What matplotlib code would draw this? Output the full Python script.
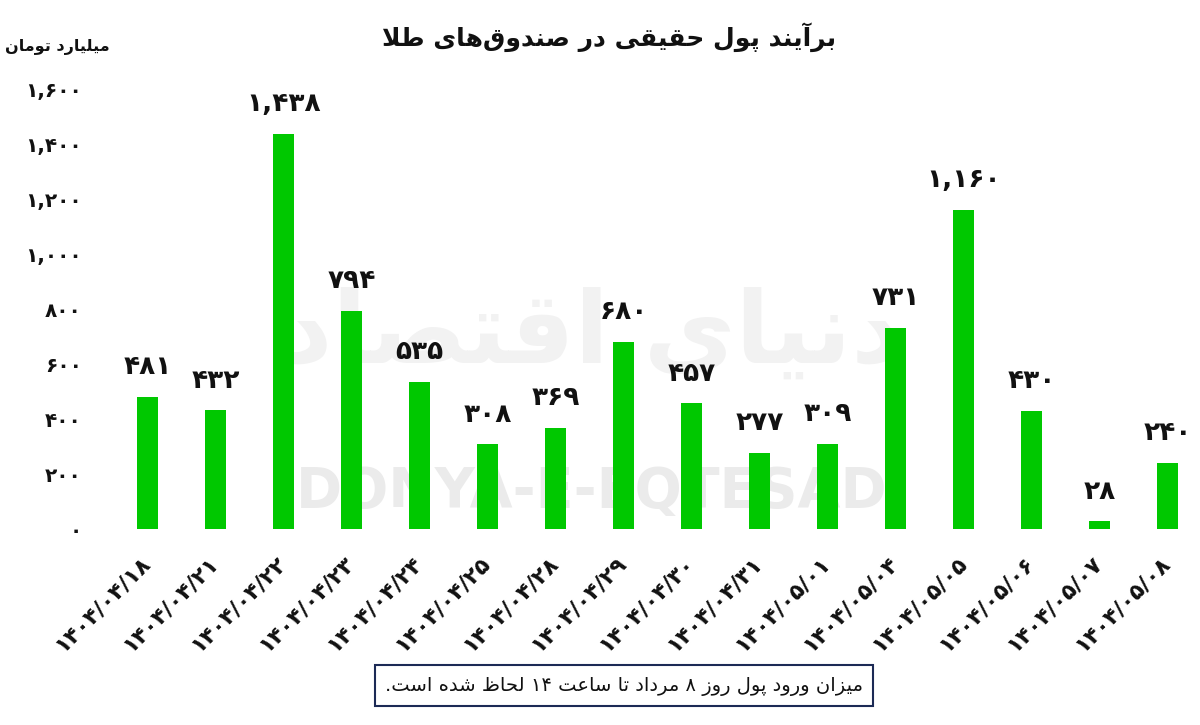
import re
import matplotlib
matplotlib.use("Agg")
import matplotlib.pyplot as plt
from matplotlib.patches import Rectangle

# ==== داده‌ها ====
DATES = ["1404/04/18", "1404/04/21", "1404/04/22", "1404/04/23", "1404/04/24",
         "1404/04/25", "1404/04/28", "1404/04/29", "1404/04/30", "1404/04/31",
         "1404/05/01", "1404/05/04", "1404/05/05", "1404/05/06", "1404/05/07",
         "1404/05/08"]
VALUES = [481, 432, 1438, 794, 535, 308, 369, 680, 457, 277, 309, 731, 1160, 430, 28, 240]
Y_TICKS = [0, 200, 400, 600, 800, 1000, 1200, 1400, 1600]

TITLE = "برآیند پول حقیقی در صندوق\u200cهای طلا"
UNIT = "میلیارد تومان"
NOTE = "میزان ورود پول روز ۸ مرداد تا ساعت ۱۴ لحاظ شده است."
WATERMARK_FA = "دنیای اقتصاد"
WATERMARK_EN = "DONYA-E-EQTESAD"
# =================

BAR_COLOR = "#00C800"
FONT = "DejaVu Sans"

# presentation forms: (isolated, final, initial, medial)
FORMS = {
    "ا": (0xFE8D, 0xFE8E, None, None), "آ": (0xFE81, 0xFE82, None, None),
    "ب": (0xFE8F, 0xFE90, 0xFE91, 0xFE92), "پ": (0xFB56, 0xFB57, 0xFB58, 0xFB59),
    "ت": (0xFE95, 0xFE96, 0xFE97, 0xFE98), "ث": (0xFE99, 0xFE9A, 0xFE9B, 0xFE9C),
    "ج": (0xFE9D, 0xFE9E, 0xFE9F, 0xFEA0), "چ": (0xFB7A, 0xFB7B, 0xFB7C, 0xFB7D),
    "ح": (0xFEA1, 0xFEA2, 0xFEA3, 0xFEA4), "خ": (0xFEA5, 0xFEA6, 0xFEA7, 0xFEA8),
    "د": (0xFEA9, 0xFEAA, None, None), "ذ": (0xFEAB, 0xFEAC, None, None),
    "ر": (0xFEAD, 0xFEAE, None, None), "ز": (0xFEAF, 0xFEB0, None, None),
    "ژ": (0xFB8A, 0xFB8B, None, None),
    "س": (0xFEB1, 0xFEB2, 0xFEB3, 0xFEB4), "ش": (0xFEB5, 0xFEB6, 0xFEB7, 0xFEB8),
    "ص": (0xFEB9, 0xFEBA, 0xFEBB, 0xFEBC), "ض": (0xFEBD, 0xFEBE, 0xFEBF, 0xFEC0),
    "ط": (0xFEC1, 0xFEC2, 0xFEC3, 0xFEC4), "ظ": (0xFEC5, 0xFEC6, 0xFEC7, 0xFEC8),
    "ع": (0xFEC9, 0xFECA, 0xFECB, 0xFECC), "غ": (0xFECD, 0xFECE, 0xFECF, 0xFED0),
    "ف": (0xFED1, 0xFED2, 0xFED3, 0xFED4), "ق": (0xFED5, 0xFED6, 0xFED7, 0xFED8),
    "ک": (0xFB8E, 0xFB8F, 0xFB90, 0xFB91), "گ": (0xFB92, 0xFB93, 0xFB94, 0xFB95),
    "ل": (0xFEDD, 0xFEDE, 0xFEDF, 0xFEE0), "م": (0xFEE1, 0xFEE2, 0xFEE3, 0xFEE4),
    "ن": (0xFEE5, 0xFEE6, 0xFEE7, 0xFEE8), "ه": (0xFEE9, 0xFEEA, 0xFEEB, 0xFEEC),
    "و": (0xFEED, 0xFEEE, None, None), "ی": (0xFBFC, 0xFBFD, 0xFBFE, 0xFBFF),
}
LAM_ALEF = {"ا": (0xFEFB, 0xFEFC), "آ": (0xFEF5, 0xFEF6)}


def dual(c):
    return c in FORMS and FORMS[c][2] is not None


def shape(text):
    # اتصال حروف + چیدن راست به چپ
    out = []
    i = 0
    n = len(text)
    while i < n:
        c = text[i]
        if c not in FORMS:
            out.append(c)
            i += 1
            continue
        prev = text[i - 1] if i > 0 else ""
        join_prev = dual(prev)
        if c == "ل" and i + 1 < n and text[i + 1] in LAM_ALEF:
            iso, fin = LAM_ALEF[text[i + 1]]
            out.append(chr(fin if join_prev else iso))
            i += 2
            continue
        nxt = text[i + 1] if i + 1 < n else ""
        join_next = dual(c) and nxt in FORMS
        iso, fin, ini, med = FORMS[c]
        if join_prev and join_next:
            f = med
        elif join_prev:
            f = fin
        elif join_next:
            f = ini
        else:
            f = iso
        out.append(chr(f))
        i += 1
    s = "".join(out).replace("\u200c", "")[::-1]
    return re.sub(r"[0-9\u06F0-\u06F9]+", lambda m: m.group(0)[::-1], s)


def fa(s):
    return str(s).translate(str.maketrans("0123456789", "۰۱۲۳۴۵۶۷۸۹"))


plt.rcParams["font.family"] = [FONT]

fig = plt.figure(figsize=(12, 7.25), dpi=100)
ax = fig.add_axes([0.0833, 0.2703, 0.9125, 0.6069])

x = list(range(len(VALUES)))

# واترمارک
ax.text(592 / 1200, 1 - 335 / 725, shape(WATERMARK_FA), fontsize=72,
        fontweight="bold", color="#f2f2f2", ha="center", va="center",
        transform=fig.transFigure, zorder=0)
ax.text(592 / 1200, 1 - 492 / 725, WATERMARK_EN, fontsize=40,
        fontweight="bold", family=["Liberation Sans Narrow", "DejaVu Sans"],
        color="#ebebeb", ha="center", va="center",
        transform=fig.transFigure, zorder=0)

ax.bar(x, VALUES, width=0.32, color=BAR_COLOR, zorder=3)
for xi, v in zip(x, VALUES):
    ax.annotate(fa(f"{v:,}"), (xi, v), xytext=(0, 12), textcoords="offset points",
                ha="center", va="bottom", fontsize=19, fontweight="bold",
                color="#111111", zorder=4)

ax.set_xlim(-0.699, 15.404)
ax.set_ylim(0, 1600)
ax.set_yticks(Y_TICKS)
ax.set_yticklabels([fa(f"{t:,}") for t in Y_TICKS], fontsize=14.5,
                   fontweight="bold", color="#111111")
ax.set_xticks(x)
ax.set_xticklabels([fa(d) for d in DATES], rotation=45, ha="right",
                   va="center", rotation_mode="anchor", fontsize=16,
                   fontweight="bold", color="#111111")
ax.tick_params(axis="y", length=0, pad=13)
ax.tick_params(axis="x", length=0, pad=22)
for sp in ax.spines.values():
    sp.set_visible(False)
ax.patch.set_alpha(0)

fig.text(609 / 1200, 1 - 37 / 725, shape(TITLE), fontsize=18, fontweight="bold",
         ha="center", va="center", color="#111111")
fig.text(0.004, 1 - 47 / 725, shape(UNIT), fontsize=11.5, fontweight="bold",
         ha="left", va="center", color="#111111")

# کادر توضیح
fig.patches.append(Rectangle((375 / 1200, 1 - 706 / 725), 498 / 1200, 41 / 725,
                             transform=fig.transFigure, fill=False,
                             edgecolor="#1c2a55", linewidth=1.5))
fig.text(624 / 1200, 1 - 686 / 725, shape(NOTE), fontsize=14,
         ha="center", va="center", color="#111111")

fig.savefig("out.png", dpi=100)
